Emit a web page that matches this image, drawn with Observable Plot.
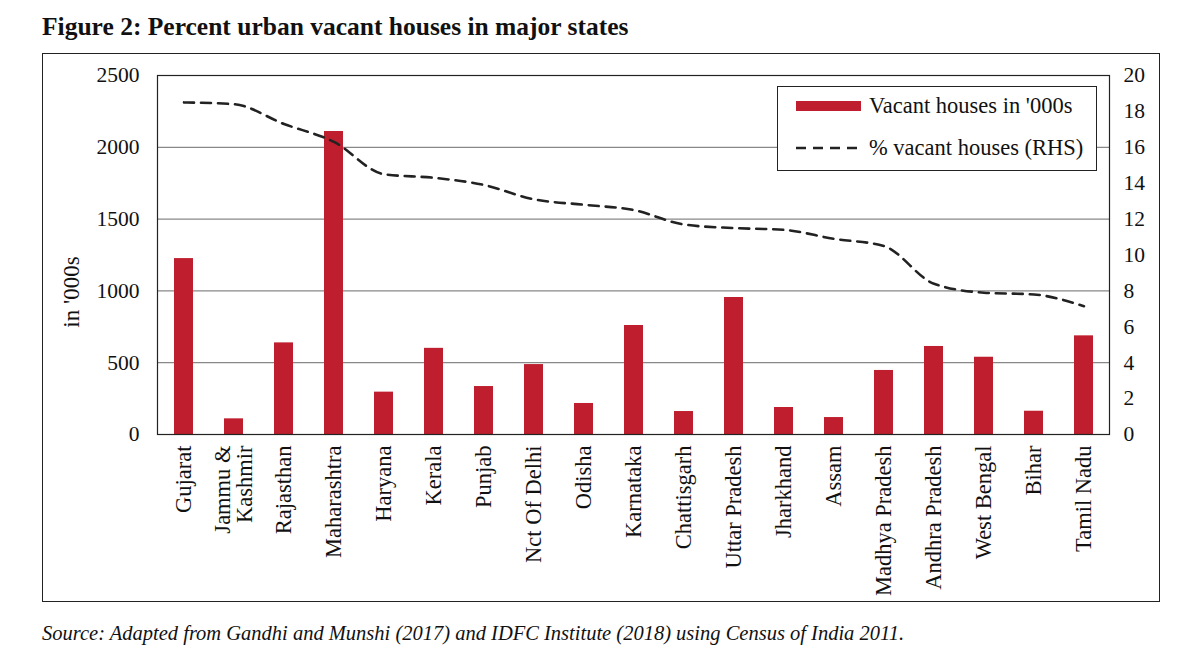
<!DOCTYPE html>
<html><head><meta charset="utf-8">
<script src="https://cdn.jsdelivr.net/npm/d3@7"></script>
<script src="https://cdn.jsdelivr.net/npm/@observablehq/plot@0.6"></script>
<style>
body{margin:0;width:1200px;height:671px;position:relative;background:#fff;font-family:"Liberation Serif",serif;color:#111;overflow:hidden}
#title{position:absolute;left:42px;top:13px;font-size:25.5px;font-weight:bold;line-height:28px;white-space:nowrap}
#box{position:absolute;left:42px;top:53px;width:1118px;height:549px;border:1.5px solid #222;box-sizing:border-box}
#chart{position:absolute;left:42px;top:53px}
#ylabel{position:absolute;left:72px;top:292px;font-size:23px;white-space:nowrap;transform:translate(-50%,-50%) rotate(-90deg)}
#legend{position:absolute;left:777px;top:86px;width:320px;height:85px;border:1.5px solid #222;box-sizing:border-box;background:#fff}
.lrow{position:absolute;left:0;height:26px;display:flex;align-items:center;font-size:22.5px;white-space:nowrap}
#caption{position:absolute;left:42px;top:622px;font-size:20.5px;font-style:italic;white-space:nowrap}
</style></head>
<body>
<div id="title">Figure 2: Percent urban vacant houses in major states</div>
<div id="box"></div>
<div id="chart"></div>
<div id="ylabel">in '000s</div>
<div id="legend">
  <div class="lrow" style="top:6px"><span style="display:inline-block;width:65px;height:10px;background:#be1e2d;margin-left:18px;margin-right:8px"></span>Vacant houses in '000s</div>
  <div class="lrow" style="top:48px"><svg width="65" height="6" style="margin-left:18px;margin-right:8px"><line x1="0" x2="65" y1="3" y2="3" stroke="#222" stroke-width="2.7" stroke-dasharray="10,7"/></svg>% vacant houses (RHS)</div>
</div>
<div id="caption">Source: Adapted from Gandhi and Munshi (2017) and IDFC Institute (2018) using Census of India 2011.</div>
<script>
const states = ["Gujarat","Jammu &\nKashmir","Rajasthan","Maharashtra","Haryana","Kerala","Punjab","Nct Of Delhi","Odisha","Karnataka","Chattisgarh","Uttar Pradesh","Jharkhand","Assam","Madhya Pradesh","Andhra Pradesh","West Bengal","Bihar","Tamil Nadu"];
const vacantThousands = [1225,109,638,2110,295,600,334,487,216,759,160,954,188,118,446,613,538,162,687];
const vacantPercent = [18.5,18.4,17.3,16.3,14.5,14.3,13.9,13.1,12.8,12.5,11.7,11.5,11.4,10.9,10.5,8.4,7.9,7.8,7.15];
const leftTicks = [0,500,1000,1500,2000,2500];
const rightTicks = [0,2,4,6,8,10,12,14,16,18,20];
const ratio = 2500/20;

const data = states.map((s,i)=>({state:s, vacant:vacantThousands[i], pct:vacantPercent[i], pctScaled:vacantPercent[i]*ratio}));

const chart = Plot.plot({
  width:1118, height:549,
  marginLeft:115, marginTop:22, marginRight:51, marginBottom:168,
  style:{fontFamily:'"Liberation Serif", serif', fontSize:"21px", color:"#111", background:"transparent"},
  x:{domain:states, paddingInner:0.62, paddingOuter:0.31, label:null},
  y:{domain:[0,2500], label:null},
  marks:[
    Plot.ruleY([500,1000,1500,2000], {stroke:"#888", strokeWidth:1.2}),
    Plot.barY(data, {x:"state", y:"vacant", fill:"#be1e2d"}),
    Plot.line(data, {x:"state", y:"pctScaled", stroke:"#222", strokeWidth:2.6, strokeDasharray:"10,7", curve:"monotone-x"}),
    Plot.frame({stroke:"#222", strokeWidth:1.2}),
    Plot.axisY(leftTicks, {anchor:"left", tickSize:0, tickPadding:18, fontSize:21.5, tickFormat:d=>String(d), label:null}),
    Plot.axisY(rightTicks.map(d=>d*ratio), {anchor:"right", tickSize:0, tickPadding:14, fontSize:21.5, tickFormat:d=>String(d/ratio), label:null}),
    Plot.axisX({tickSize:0, tickRotate:-90, tickPadding:11, fontSize:22.5, label:null})
  ]
});
document.getElementById("chart").appendChild(chart);
</script>
</body></html>
